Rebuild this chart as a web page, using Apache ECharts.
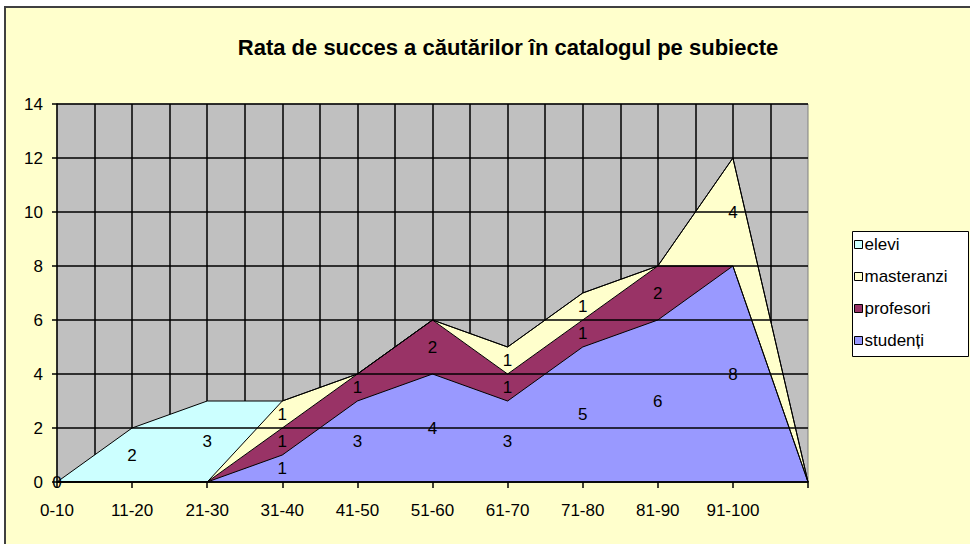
<!DOCTYPE html>
<html>
<head>
<meta charset="utf-8">
<script src="https://cdn.jsdelivr.net/npm/echarts@6/dist/echarts.min.js"></script>
<style>html,body{margin:0;padding:0;background:#fff;}#c{width:970px;height:544px;}</style>
</head>
<body>
<div id="c"></div>
<script>
// ---- data ----
const categories = ['0-10','11-20','21-30','31-40','41-50','51-60','61-70','71-80','81-90','91-100',''];
const studenti   = [null, null, null, 1, 3, 4, 3, 5, 6, 8, null];
const profesori  = [null, null, null, 1, 1, 2, 1, 1, 2, null, null];
const masteranzi = [null, null, null, 1, null, null, 1, 1, null, 4, null];
const elevi      = [0, 2, 3, null, null, null, null, null, null, null, null];
const yTicks = {min: 0, max: 14, interval: 2};
const titleText = 'Rata de succes a căutărilor în catalogul pe subiecte';

// ---- styling ----
const FONT = 'Liberation Sans, Arial, sans-serif';
const seriesDefs = [
  {name: 'studenți',   data: studenti,   color: '#9999FF'},
  {name: 'profesori',  data: profesori,  color: '#993366'},
  {name: 'masteranzi', data: masteranzi, color: '#FFFFCC'},
  {name: 'elevi',      data: elevi,      color: '#CCFFFF'}
];
const legendOrder = ['elevi', 'masteranzi', 'profesori', 'studenți'];

const series = seriesDefs.map(s => ({
  name: s.name,
  type: 'line',
  stack: 'total',
  color: s.color,
  data: s.data.map(v => v == null ? 0 : v),
  symbol: 'none',
  lineStyle: {color: '#000', width: 1},
  areaStyle: {color: s.color, opacity: 1},
  itemStyle: {color: s.color},
  emphasis: {disabled: true},
  z: 2
}));

// data labels placed in the middle of each band (built from the data through the value axis)
const labelData = [];
categories.forEach((c, i) => {
  let base = 0;
  seriesDefs.forEach(s => {
    const v = s.data[i];
    if (v != null) {
      labelData.push([i, base + v / 2, v]);
      base += v;
    }
  });
});
series.push({
  name: 'labels',
  type: 'scatter',
  data: labelData,
  symbol: 'circle',
  symbolSize: 2,
  itemStyle: {color: 'rgba(0,0,0,0)'},
  silent: true,
  z: 10,
  label: {
    show: true, position: 'inside', color: '#000', opacity: 1,
    fontFamily: FONT, fontSize: 17,
    formatter: p => String(p.value[2])
  }
});

const chart = echarts.init(document.getElementById('c'), null, {renderer: 'svg'});
chart.setOption({
  animation: false,
  backgroundColor: '#ffffff',
  title: {
    text: titleText, left: 503, top: 31, textAlign: 'center',
    textStyle: {fontFamily: FONT, fontSize: 22, fontWeight: 'bold', color: '#000'}
  },
  graphic: [
    {type: 'rect', z: -100, shape: {x: 5, y: 7, width: 1000, height: 600},
     style: {fill: '#FFFFCC', stroke: '#404040', lineWidth: 2}},
    {type: 'rect', z: 3, shape: {x: 852.5, y: 231.5, width: 116, height: 125},
     style: {fill: '#FFFFFF', stroke: '#000', lineWidth: 1}}
  ],
  legend: {
    orient: 'vertical', left: 852, top: 231,
    padding: [5, 2, 5, 2],
    itemGap: 15, itemWidth: 8, itemHeight: 8, icon: 'rect',
    selectedMode: false,
    textStyle: {fontFamily: FONT, fontSize: 17, color: '#000', padding: [0, 0, 0, -3]},
    data: legendOrder.map(n => ({
      name: n,
      itemStyle: {color: seriesDefs.find(s => s.name === n).color, borderColor: '#000', borderWidth: 1}
    }))
  },
  grid: {
    left: 57, right: 162, top: 104, bottom: 62,
    show: true, backgroundColor: '#C0C0C0', borderColor: '#808080', borderWidth: 1,
    containLabel: false, outerBoundsMode: 'none'
  },
  xAxis: [
    {
      type: 'category', data: categories, boundaryGap: false,
      axisLine: {show: true, lineStyle: {color: '#000', width: 1.5}},
      axisTick: {show: true, inside: false, length: 6, interval: 0, lineStyle: {color: '#000', width: 1.5}},
      axisLabel: {interval: 0, margin: 20, fontFamily: FONT, fontSize: 17, color: '#000'},
      splitLine: {show: false},
      z: 5
    },
    {
      type: 'category', data: new Array(21).fill(''), boundaryGap: false, position: 'bottom',
      axisLine: {show: false}, axisTick: {show: false}, axisLabel: {show: false},
      splitLine: {show: true, interval: (i) => i > 0 && i < 20, lineStyle: {color: '#000', width: 1.5}}
    }
  ],
  yAxis: {
    type: 'value', min: yTicks.min, max: yTicks.max, interval: yTicks.interval,
    axisLine: {show: true, lineStyle: {color: '#000', width: 1.5}},
    axisTick: {show: true, inside: false, length: 5, lineStyle: {color: '#000', width: 1.5}},
    axisLabel: {margin: 14, fontFamily: FONT, fontSize: 17, color: '#000'},
    splitLine: {show: true, lineStyle: {color: '#000', width: 1.5}},
    z: 5
  },
  series: series
});
</script>
</body>
</html>
